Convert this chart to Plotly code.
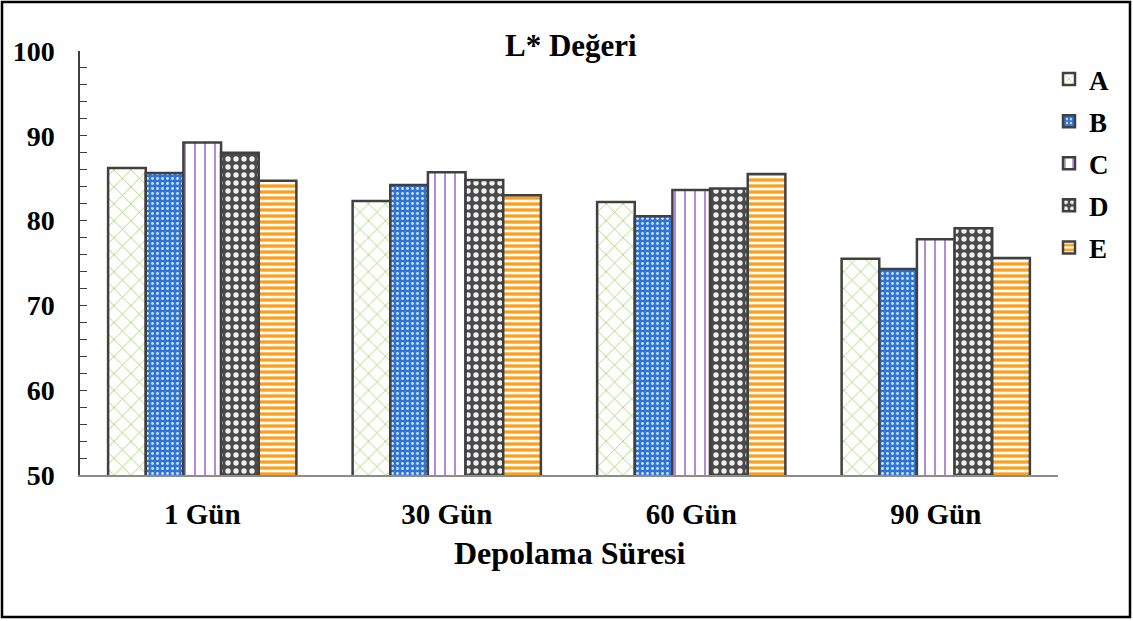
import plotly.graph_objects as go

# Storage time categories and L* values for each sample
categories = ["1 Gün", "30 Gün", "60 Gün", "90 Gün"]
series_names = ["A", "B", "C", "D", "E"]
values_A = [86.2, 82.3, 82.2, 75.5]
values_B = [85.6, 84.2, 80.5, 74.3]
values_C = [89.2, 85.7, 83.6, 77.8]
values_D = [88.0, 84.8, 83.8, 79.1]
values_E = [84.7, 83.0, 85.5, 75.6]
series_values = [values_A, values_B, values_C, values_D, values_E]

FONT = "Liberation Serif"
EDGE = "#404040"

# pattern styles per sample
patterns = [
    dict(shape="x", bgcolor="white", fgcolor="#92D050", size=12, solidity=0.12, fillmode="replace"),
    dict(shape=".", bgcolor="#2E75D6", fgcolor="#CFE2FA", size=5, solidity=0.25, fillmode="replace"),
    dict(shape="|", bgcolor="white", fgcolor="#7E3FB8", size=10, solidity=0.12, fillmode="replace"),
    dict(shape=".", bgcolor="#4A4A4A", fgcolor="#F2F2F2", size=8, solidity=0.35, fillmode="replace"),
    dict(shape="-", bgcolor="white", fgcolor="#FF9E1B", size=6, solidity=0.55, fillmode="replace"),
]

fig = go.Figure()
for name, vals, pat in zip(series_names, series_values, patterns):
    fig.add_trace(go.Bar(
        name=name,
        x=categories,
        y=vals,
        legendgroup=name,
        marker=dict(color=pat["bgcolor"], line=dict(color=EDGE, width=2.5), pattern=pat),
    ))

W, H = 1133, 621
L, R, T, B = 80, 1133 - 1058, 51, 621 - 475
pw, ph = W - L - R, H - T - B

def px_x(x):
    return (x - L) / pw

def px_y(y):
    return (H - B - y) / ph

fig.update_layout(
    width=W, height=H,
    margin=dict(l=L, r=R, t=T, b=B, autoexpand=False),
    paper_bgcolor="white", plot_bgcolor="white",
    barmode="group", bargap=0.23, bargroupgap=0,
    font=dict(family=FONT, color="black"),
    showlegend=True,
    legend=dict(
        x=px_x(1049), y=px_y(55), xanchor="left", yanchor="top",
        font=dict(family=FONT, size=27, weight="bold"),
        tracegroupgap=4, bgcolor="rgba(0,0,0,0)",
    ),
    annotations=[
        dict(text="<b>L* Değeri</b>", x=px_x(571), y=px_y(45), xref="paper", yref="paper",
             showarrow=False, xanchor="center", yanchor="middle", font=dict(size=31)),
        dict(text="<b>Depolama Süresi</b>", x=px_x(570), y=px_y(553), xref="paper", yref="paper",
             showarrow=False, xanchor="center", yanchor="middle", font=dict(size=32)),
    ],
    shapes=[
        dict(type="rect", xref="paper", yref="paper",
             x0=px_x(2), x1=px_x(1130), y0=px_y(617), y1=px_y(2),
             line=dict(color="black", width=2.5), fillcolor="rgba(0,0,0,0)", layer="above"),
    ],
)

fig.update_yaxes(
    range=[50, 100], dtick=10, tick0=50,
    showgrid=False, zeroline=False,
    showline=True, linecolor=EDGE, linewidth=1.5,
    ticks="inside", ticklen=7, tickcolor=EDGE, tickwidth=1.2,
    minor=dict(dtick=2, ticks="inside", ticklen=7, tickcolor=EDGE, tickwidth=1.2, showgrid=False),
    tickfont=dict(family=FONT, size=28, weight="bold"),
    ticklabelstandoff=18,
)
fig.update_xaxes(
    showgrid=False, showline=True, linecolor="#8C8C8C", linewidth=1.5,
    ticks="", tickfont=dict(family=FONT, size=29, weight="bold"),
    ticklabelstandoff=12,
)

fig.write_html("out.html")
